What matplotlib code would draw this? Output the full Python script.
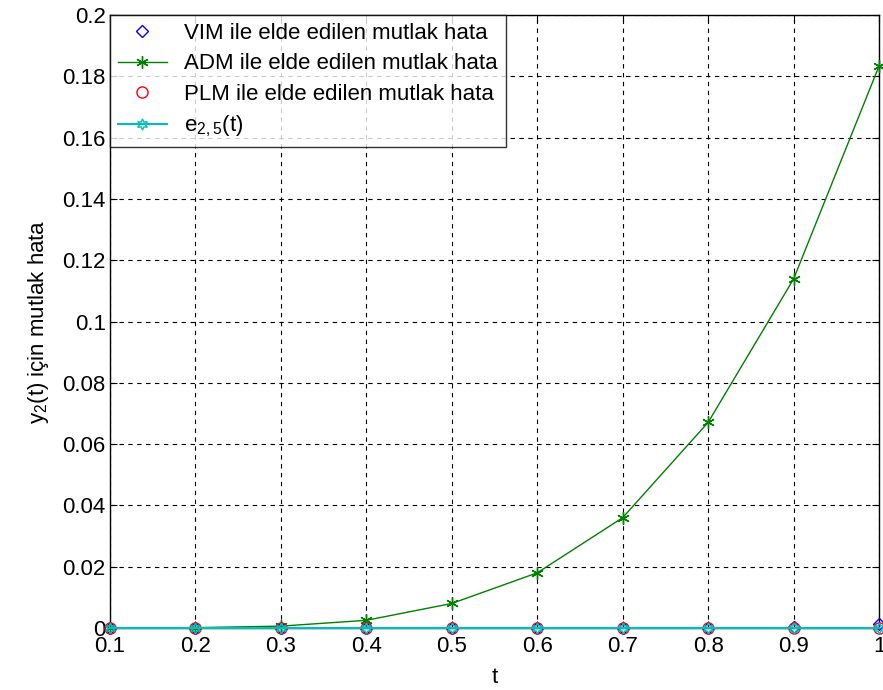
import matplotlib
matplotlib.use("Agg")
import matplotlib.pyplot as plt

plt.rcParams['font.family'] = ['Liberation Sans', 'DejaVu Sans']

t = [0.1, 0.2, 0.3, 0.4, 0.5, 0.6, 0.7, 0.8, 0.9, 1.0]
vim = [0.0, 0.0, 0.0, 0.0, 0.0, 0.0, 0.0, 0.0001, 0.0003, 0.0012]
adm = [0.0, 0.0001, 0.0006, 0.0025, 0.0080, 0.0180, 0.0360, 0.0671, 0.1139, 0.1834]
plm = [0.0, 0.0, 0.0, 0.0, 0.0, 0.0, 0.0, 0.0, 0.0, 0.0]
e25 = [0.0, 0.0, 0.0, 0.0, 0.0, 0.0, 0.0, 0.0, 0.0, 0.0]

xticklabels = ['0.1', '0.2', '0.3', '0.4', '0.5', '0.6', '0.7', '0.8', '0.9', '1']
yticks = [0, 0.02, 0.04, 0.06, 0.08, 0.1, 0.12, 0.14, 0.16, 0.18, 0.2]
yticklabels = ['0', '0.02', '0.04', '0.06', '0.08', '0.1', '0.12', '0.14', '0.16', '0.18', '0.2']

fig = plt.figure(figsize=(8.83, 6.90), dpi=100)
ax = fig.add_axes([0.1246, 0.0899, 0.8709, 0.8881])

ax.plot(t, vim, linestyle='none', marker='D', markersize=6, markerfacecolor='none',
        markeredgecolor='blue', color='blue', clip_on=False, zorder=4,
        label='VIM ile elde edilen mutlak hata')
ax.plot(t, adm, '-', color='#008000', marker=(6, 2, 0), markersize=9, linewidth=1,
        clip_on=False, zorder=3, label='ADM ile elde edilen mutlak hata')
ax.plot(t, plm, linestyle='none', marker='o', markersize=8, markerfacecolor='none',
        markeredgecolor='red', clip_on=False, zorder=4,
        label='PLM ile elde edilen mutlak hata')
ax.plot(t, e25, '-', color='#00BFBF', marker=(6, 1, 0), markersize=8, markerfacecolor='none',
        linewidth=1.5, clip_on=False, zorder=5, label='$\\mathregular{e_{2,5}(t)}$')

ax.set_xlim(0.1, 1.0)
ax.set_ylim(0, 0.2)
ax.set_xticks(t)
ax.set_xticklabels(xticklabels)
ax.set_yticks(yticks)
ax.set_yticklabels(yticklabels)
ax.tick_params(direction='in', labelsize=16, length=5, top=True, right=True,
               labeltop=False, labelright=False)
ax.tick_params(axis='x', pad=6)
ax.tick_params(axis='y', pad=3)
ax.grid(True, color='black', linestyle=(0, (4, 4)), linewidth=0.8)
for s in ax.spines.values():
    s.set_linewidth(1.0)

ax.set_xlabel('t', fontsize=16, labelpad=7)
ax.set_ylabel('$\\mathregular{y_2(t)}$ için mutlak hata', fontsize=16, labelpad=8)

leg = ax.legend(loc='upper left', fontsize=16, frameon=True, fancybox=False,
                edgecolor='black', borderaxespad=0, handlelength=2.2,
                labelspacing=0.42, borderpad=0.35, handletextpad=0.8)
leg.get_frame().set_linewidth(1.0)

fig.savefig('out.png', dpi=100)
